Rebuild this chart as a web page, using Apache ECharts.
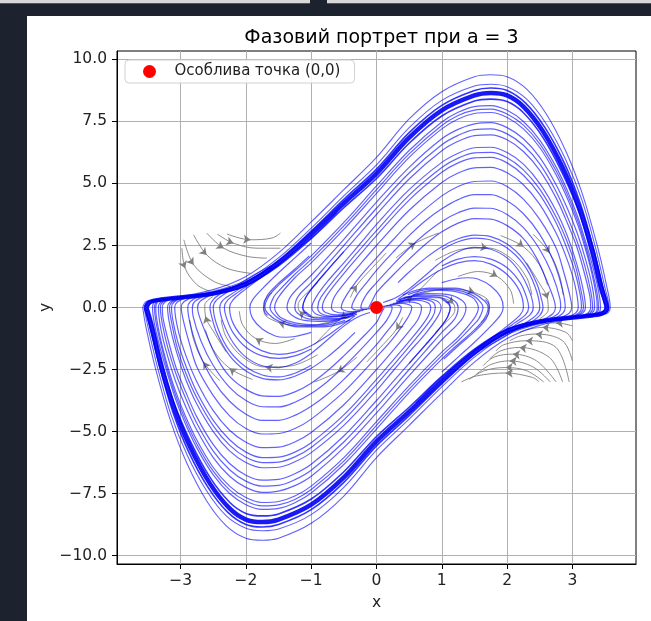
<!DOCTYPE html>
<html><head><meta charset="utf-8">
<script src="https://cdn.jsdelivr.net/npm/echarts@6/dist/echarts.min.js"></script>
<style>
html,body{margin:0;padding:0;width:651px;height:621px;overflow:hidden;background:#1c232e;position:relative}
#bar1{position:absolute;left:0;top:0;width:310px;height:3px;background:#d8d8d8;border-bottom:1px solid #555}
#bar2{position:absolute;left:327px;top:0;width:324px;height:3px;background:#d8d8d8;border-bottom:1px solid #555}
#panel{position:absolute;left:27px;top:16px;width:624px;height:605px;background:#fff}
#chart{position:absolute;left:0;top:0;width:651px;height:621px}
</style></head><body>
<div id="bar1"></div><div id="bar2"></div><div id="panel"></div><div id="chart"></div>
<script>
const xTicks = [-3, -2, -1, 0, 1, 2, 3];
const yTicks = [-10, -7.5, -5, -2.5, 0, 2.5, 5, 7.5, 10];
const singularPoint = [[0, 0]];

const limitCycle = [[-3.53,0.0],[-3.47,0.22],[-3.3,0.32],[-3.0,0.4],[-2.5,0.56],[-2.0,0.95],[-1.5,1.8],[-1.0,2.95],[-0.5,4.2],[0,5.4],[0.5,6.85],[1.0,7.95],[1.5,8.55],[1.75,8.65],[2.0,8.55],[2.25,8.1],[2.55,7.1],[2.85,5.65],[3.1,4.05],[3.3,2.35],[3.45,0.75],[3.52,0.1],
[3.53,0.0],[3.47,-0.22],[3.3,-0.32],[3.0,-0.4],[2.5,-0.56],[2.0,-0.95],[1.5,-1.8],[1.0,-2.95],[0.5,-4.2],[0,-5.4],[-0.5,-6.85],[-1.0,-7.95],[-1.5,-8.55],[-1.75,-8.65],[-2.0,-8.55],[-2.25,-8.1],[-2.55,-7.1],[-2.85,-5.65],[-3.1,-4.05],[-3.3,-2.35],[-3.45,-0.75],[-3.52,-0.1],[-3.53,0.0]];

const bandInner = [[-3.5,0.0],[-3.44,0.21],[-3.0,0.39],[-2.5,0.53],[-2.0,0.88],[-1.5,1.68],[-1.0,2.78],[-0.5,4.02],[0,5.2],[0.5,6.62],[1.0,7.72],[1.5,8.32],[1.75,8.4],[2.0,8.3],[2.25,7.85],[2.55,6.85],[2.85,5.4],[3.1,3.85],[3.28,2.25],[3.42,0.72],[3.5,0.0],
[3.44,-0.21],[3.0,-0.39],[2.5,-0.53],[2.0,-0.88],[1.5,-1.68],[1.0,-2.78],[0.5,-4.02],[0,-5.2],[-0.5,-6.62],[-1.0,-7.72],[-1.5,-8.32],[-1.75,-8.4],[-2.0,-8.3],[-2.25,-7.85],[-2.55,-6.85],[-2.85,-5.4],[-3.1,-3.85],[-3.28,-2.25],[-3.42,-0.72],[-3.5,0.0]];

const bandOuter = [[-3.55,0.0],[-3.49,0.23],[-3.0,0.42],[-2.5,0.6],[-2.0,1.02],[-1.5,1.9],[-1.0,3.08],[-0.5,4.36],[0,5.58],[0.5,7.05],[1.0,8.15],[1.5,8.75],[1.75,8.85],[2.0,8.75],[2.28,8.25],[2.58,7.25],[2.88,5.8],[3.12,4.2],[3.32,2.4],[3.47,0.76],[3.55,0.0],
[3.49,-0.23],[3.0,-0.42],[2.5,-0.6],[2.0,-1.02],[1.5,-1.9],[1.0,-3.08],[0.5,-4.36],[0,-5.58],[-0.5,-7.05],[-1.0,-8.15],[-1.5,-8.75],[-1.75,-8.85],[-2.0,-8.75],[-2.28,-8.25],[-2.58,-7.25],[-2.88,-5.8],[-3.12,-4.2],[-3.32,-2.4],[-3.47,-0.76],[-3.55,0.0]];

const outerLoopA = [[-3.58,0.0],[-3.52,0.25],[-3.0,0.45],[-2.5,0.72],[-2.0,1.25],[-1.5,2.2],[-1.0,3.45],[-0.5,4.75],[0,6.05],[0.5,7.6],[1.0,8.7],[1.5,9.3],[1.75,9.38],[2.0,9.3],[2.3,8.8],[2.6,7.8],[2.9,6.3],[3.15,4.6],[3.38,2.5],[3.53,0.8],[3.58,0.0],
[3.52,-0.25],[3.0,-0.45],[2.5,-0.72],[2.0,-1.25],[1.5,-2.2],[1.0,-3.45],[0.5,-4.75],[0,-6.05],[-0.5,-7.6],[-1.0,-8.7],[-1.5,-9.3],[-1.75,-9.38],[-2.0,-9.3],[-2.3,-8.8],[-2.6,-7.8],[-2.9,-6.3],[-3.15,-4.6],[-3.38,-2.5],[-3.53,-0.8],[-3.58,0.0]];

const outerLoopB = [[-3.56,0.0],[-3.5,0.24],[-3.0,0.43],[-2.5,0.65],[-2.0,1.1],[-1.5,2.0],[-1.0,3.2],[-0.5,4.5],[0,5.75],[0.5,7.25],[1.0,8.35],[1.5,8.93],[1.75,9.0],[2.0,8.9],[2.3,8.4],[2.6,7.4],[2.9,5.95],[3.15,4.3],[3.35,2.45],[3.5,0.78],[3.56,0.0],
[3.5,-0.24],[3.0,-0.43],[2.5,-0.65],[2.0,-1.1],[1.5,-2.0],[1.0,-3.2],[0.5,-4.5],[0,-5.75],[-0.5,-7.25],[-1.0,-8.35],[-1.5,-8.93],[-1.75,-9.0],[-2.0,-8.9],[-2.3,-8.4],[-2.6,-7.4],[-2.9,-5.95],[-3.15,-4.3],[-3.35,-2.45],[-3.5,-0.78],[-3.56,0.0]];

const arcsUpper = [
[[-0.4,-0.5],[-0.8,-0.78],[-1.2,-0.78],[-1.5,-0.55],[-1.66,-0.25],[-1.71,0],[-1.65,0.45],[-1.5,0.9],[-1.25,1.48],[-1.0,2.08],[-0.5,3.43],[0,4.9],[0.5,6.33],[1.0,7.48],[1.25,7.87],[1.5,8.1],[1.75,8.14],[2.0,7.95],[2.25,7.5],[2.5,6.75],[2.75,5.67],[2.93,4.67],[3.08,3.67],[3.2,2.67],[3.31,1.67],[3.4,0.67],[3.43,0],[3.4,-0.22],[3.25,-0.33],[3.0,-0.41],[2.5,-0.58]],
[[-0.48,-0.52],[-0.85,-0.74],[-1.22,-0.7],[-1.48,-0.48],[-1.6,-0.2],[-1.63,0],[-1.57,0.44],[-1.5,0.66],[-1.25,1.34],[-1.0,1.94],[-0.5,3.29],[0,4.75],[0.5,6.19],[1.0,7.34],[1.25,7.74],[1.5,7.96],[1.75,8.0],[2.0,7.8],[2.25,7.35],[2.5,6.6],[2.75,5.51],[2.93,4.51],[3.08,3.51],[3.2,2.51],[3.3,1.51],[3.38,0.55],[3.4,0],[3.37,-0.22],[3.22,-0.33],[3.0,-0.41],[2.5,-0.58]],
[[-0.55,-0.5],[-0.9,-0.7],[-1.25,-0.62],[-1.47,-0.4],[-1.54,-0.18],[-1.56,0],[-1.5,0.42],[-1.25,1.2],[-1.0,1.8],[-0.5,3.15],[0,4.6],[0.5,6.05],[1.0,7.2],[1.25,7.6],[1.5,7.82],[1.75,7.86],[2.0,7.66],[2.25,7.2],[2.5,6.45],[2.75,5.35],[2.93,4.35],[3.08,3.35],[3.2,2.35],[3.3,1.35],[3.37,0.4],[3.38,0],[3.35,-0.22],[3.2,-0.34],[3.0,-0.42],[2.5,-0.58]],
[[-0.4,-0.38],[-0.8,-0.56],[-1.1,-0.52],[-1.3,-0.3],[-1.37,0],[-1.3,0.5],[-1.0,1.3],[-0.5,2.75],[0,4.25],[0.5,5.65],[1.0,6.8],[1.25,7.18],[1.5,7.4],[1.75,7.45],[2.0,7.25],[2.25,6.8],[2.5,6.05],[2.75,4.95],[2.93,3.95],[3.08,2.95],[3.2,1.95],[3.3,0.9],[3.34,0],[3.3,-0.22],[3.15,-0.35],[2.95,-0.43],[2.5,-0.59]],
[[-0.35,-0.33],[-0.72,-0.5],[-1.02,-0.47],[-1.2,-0.25],[-1.25,0],[-1.2,0.45],[-1.0,1.0],[-0.75,1.75],[-0.5,2.5],[0,4.0],[0.5,5.42],[1.0,6.56],[1.25,6.94],[1.5,7.17],[1.75,7.2],[2.0,7.0],[2.25,6.54],[2.5,5.79],[2.75,4.68],[2.92,3.68],[3.07,2.68],[3.19,1.68],[3.28,0.66],[3.31,0],[3.27,-0.22],[3.12,-0.35],[2.92,-0.43],[2.5,-0.6]],
[[-0.3,-0.28],[-0.65,-0.45],[-0.95,-0.42],[-1.1,-0.2],[-1.13,0],[-1.09,0.37],[-1.0,0.73],[-0.75,1.51],[-0.5,2.25],[-0.25,3.0],[0,3.75],[0.5,5.18],[1.0,6.32],[1.25,6.7],[1.5,6.93],[1.75,6.96],[2.0,6.76],[2.25,6.29],[2.5,5.53],[2.75,4.42],[2.92,3.42],[3.07,2.42],[3.18,1.42],[3.27,0.42],[3.28,0],[3.24,-0.22],[3.1,-0.36],[2.9,-0.44],[2.5,-0.6]],
[[-0.35,-0.28],[-0.7,-0.37],[-0.92,-0.27],[-0.99,0],[-0.93,0.4],[-0.75,1.05],[-0.5,1.8],[-0.25,2.57],[0,3.35],[0.5,4.75],[1.0,5.85],[1.25,6.22],[1.5,6.44],[1.75,6.46],[2.0,6.25],[2.25,5.78],[2.5,5.0],[2.75,3.9],[2.92,2.9],[3.05,1.9],[3.15,0.9],[3.2,0],[3.16,-0.22],[3.0,-0.4],[2.8,-0.48],[2.45,-0.62]],
[[-0.32,-0.25],[-0.65,-0.35],[-0.85,-0.24],[-0.9,0],[-0.85,0.42],[-0.5,1.58],[-0.25,2.35],[0,3.1],[0.5,4.53],[1.0,5.64],[1.25,6.02],[1.5,6.23],[1.75,6.25],[2.0,6.04],[2.25,5.55],[2.5,4.77],[2.75,3.65],[2.92,2.65],[3.05,1.65],[3.13,0.7],[3.17,0],[3.13,-0.22],[2.97,-0.4],[2.77,-0.48],[2.45,-0.62]],
[[-0.3,-0.22],[-0.6,-0.3],[-0.78,-0.2],[-0.83,0],[-0.77,0.45],[-0.5,1.37],[-0.25,2.14],[0,2.9],[0.5,4.33],[1.0,5.45],[1.25,5.83],[1.5,6.03],[1.75,6.05],[2.0,5.83],[2.25,5.33],[2.5,4.55],[2.75,3.42],[2.91,2.42],[3.04,1.42],[3.12,0.5],[3.14,0],[3.1,-0.22],[2.95,-0.4],[2.75,-0.49],[2.45,-0.62]],
[[-0.25,-0.16],[-0.5,-0.23],[-0.65,-0.15],[-0.69,0],[-0.64,0.45],[-0.5,0.95],[-0.25,1.74],[0,2.5],[0.5,3.92],[1.0,5.04],[1.25,5.42],[1.5,5.63],[1.75,5.65],[2.0,5.43],[2.25,4.95],[2.5,4.16],[2.75,3.0],[2.91,2.0],[3.03,1.0],[3.09,0],[3.05,-0.22],[2.9,-0.4],[2.7,-0.5],[2.4,-0.63]],
[[-0.2,-0.12],[-0.4,-0.17],[-0.51,-0.1],[-0.54,0],[-0.47,0.45],[-0.25,1.25],[0,2.0],[0.25,2.72],[0.5,3.4],[1.0,4.5],[1.25,4.88],[1.5,5.08],[1.75,5.1],[2.0,4.88],[2.25,4.37],[2.5,3.55],[2.75,2.4],[2.87,1.4],[2.96,0.5],[2.99,0],[2.95,-0.23],[2.8,-0.42],[2.6,-0.53],[2.3,-0.68]],
[[-0.15,-0.08],[-0.3,-0.1],[-0.38,0],[-0.3,0.5],[-0.15,1.0],[0,1.5],[0.25,2.22],[0.5,2.9],[0.75,3.5],[1.0,3.98],[1.25,4.35],[1.5,4.55],[1.75,4.55],[2.0,4.3],[2.25,3.78],[2.5,2.95],[2.72,1.8],[2.85,0.7],[2.89,0],[2.85,-0.24],[2.7,-0.47],[2.45,-0.63],[2.15,-0.85]],
[[-0.1,-0.05],[-0.2,-0.06],[-0.24,0],[-0.16,0.5],[0,1.0],[0.25,1.72],[0.5,2.39],[0.75,2.98],[1.0,3.47],[1.25,3.82],[1.5,4.01],[1.75,4.0],[2.0,3.75],[2.25,3.22],[2.5,2.34],[2.69,1.34],[2.81,0.34],[2.82,0],[2.78,-0.25],[2.6,-0.5],[2.3,-0.75],[2.0,-1.0]],
[[-0.12,0],[-0.06,0.3],[0,0.6],[0.25,1.3],[0.5,1.95],[0.75,2.55],[1.0,3.05],[1.25,3.4],[1.5,3.58],[1.75,3.56],[2.0,3.3],[2.25,2.78],[2.45,2.0],[2.62,1.0],[2.72,0.3],[2.74,0],[2.7,-0.25],[2.5,-0.55],[2.2,-0.8],[1.9,-1.15]]
];

const arcsLower = [
[[0.4,0.5],[0.8,0.78],[1.2,0.78],[1.5,0.55],[1.66,0.25],[1.71,0],[1.65,-0.45],[1.5,-0.9],[1.25,-1.48],[1.0,-2.08],[0.5,-3.43],[0,-4.9],[-0.5,-6.33],[-1.0,-7.48],[-1.25,-7.87],[-1.5,-8.1],[-1.75,-8.14],[-2.0,-7.95],[-2.25,-7.5],[-2.5,-6.75],[-2.75,-5.67],[-2.93,-4.67],[-3.08,-3.67],[-3.2,-2.67],[-3.31,-1.67],[-3.4,-0.67],[-3.43,0],[-3.4,0.22],[-3.25,0.33],[-3.0,0.41],[-2.5,0.58]],
[[0.48,0.52],[0.85,0.74],[1.22,0.7],[1.48,0.48],[1.6,0.2],[1.63,0],[1.57,-0.44],[1.5,-0.66],[1.25,-1.34],[1.0,-1.94],[0.5,-3.29],[0,-4.75],[-0.5,-6.19],[-1.0,-7.34],[-1.25,-7.74],[-1.5,-7.96],[-1.75,-8.0],[-2.0,-7.8],[-2.25,-7.35],[-2.5,-6.6],[-2.75,-5.51],[-2.93,-4.51],[-3.08,-3.51],[-3.2,-2.51],[-3.3,-1.51],[-3.38,-0.55],[-3.4,0],[-3.37,0.22],[-3.22,0.33],[-3.0,0.41],[-2.5,0.58]],
[[0.55,0.5],[0.9,0.7],[1.25,0.62],[1.47,0.4],[1.54,0.18],[1.56,0],[1.5,-0.42],[1.25,-1.2],[1.0,-1.8],[0.5,-3.15],[0,-4.6],[-0.5,-6.05],[-1.0,-7.2],[-1.25,-7.6],[-1.5,-7.82],[-1.75,-7.86],[-2.0,-7.66],[-2.25,-7.2],[-2.5,-6.45],[-2.75,-5.35],[-2.93,-4.35],[-3.08,-3.35],[-3.2,-2.35],[-3.3,-1.35],[-3.37,-0.4],[-3.38,0],[-3.35,0.22],[-3.2,0.34],[-3.0,0.42],[-2.5,0.58]],
[[0.4,0.38],[0.8,0.56],[1.1,0.52],[1.3,0.3],[1.37,0],[1.3,-0.5],[1.0,-1.3],[0.5,-2.75],[0,-4.25],[-0.5,-5.65],[-1.0,-6.8],[-1.25,-7.18],[-1.5,-7.4],[-1.75,-7.45],[-2.0,-7.25],[-2.25,-6.8],[-2.5,-6.05],[-2.75,-4.95],[-2.93,-3.95],[-3.08,-2.95],[-3.2,-1.95],[-3.3,-0.9],[-3.34,0],[-3.3,0.22],[-3.15,0.35],[-2.95,0.43],[-2.5,0.59]],
[[0.35,0.33],[0.72,0.5],[1.02,0.47],[1.2,0.25],[1.25,0],[1.2,-0.45],[1.0,-1.0],[0.75,-1.75],[0.5,-2.5],[0,-4.0],[-0.5,-5.42],[-1.0,-6.56],[-1.25,-6.94],[-1.5,-7.17],[-1.75,-7.2],[-2.0,-7.0],[-2.25,-6.54],[-2.5,-5.79],[-2.75,-4.68],[-2.92,-3.68],[-3.07,-2.68],[-3.19,-1.68],[-3.28,-0.66],[-3.31,0],[-3.27,0.22],[-3.12,0.35],[-2.92,0.43],[-2.5,0.6]],
[[0.3,0.28],[0.65,0.45],[0.95,0.42],[1.1,0.2],[1.13,0],[1.09,-0.37],[1.0,-0.73],[0.75,-1.51],[0.5,-2.25],[0.25,-3.0],[0,-3.75],[-0.5,-5.18],[-1.0,-6.32],[-1.25,-6.7],[-1.5,-6.93],[-1.75,-6.96],[-2.0,-6.76],[-2.25,-6.29],[-2.5,-5.53],[-2.75,-4.42],[-2.92,-3.42],[-3.07,-2.42],[-3.18,-1.42],[-3.27,-0.42],[-3.28,0],[-3.24,0.22],[-3.1,0.36],[-2.9,0.44],[-2.5,0.6]],
[[0.35,0.28],[0.7,0.37],[0.92,0.27],[0.99,0],[0.93,-0.4],[0.75,-1.05],[0.5,-1.8],[0.25,-2.57],[0,-3.35],[-0.5,-4.75],[-1.0,-5.85],[-1.25,-6.22],[-1.5,-6.44],[-1.75,-6.46],[-2.0,-6.25],[-2.25,-5.78],[-2.5,-5.0],[-2.75,-3.9],[-2.92,-2.9],[-3.05,-1.9],[-3.15,-0.9],[-3.2,0],[-3.16,0.22],[-3.0,0.4],[-2.8,0.48],[-2.45,0.62]],
[[0.32,0.25],[0.65,0.35],[0.85,0.24],[0.9,0],[0.85,-0.42],[0.5,-1.58],[0.25,-2.35],[0,-3.1],[-0.5,-4.53],[-1.0,-5.64],[-1.25,-6.02],[-1.5,-6.23],[-1.75,-6.25],[-2.0,-6.04],[-2.25,-5.55],[-2.5,-4.77],[-2.75,-3.65],[-2.92,-2.65],[-3.05,-1.65],[-3.13,-0.7],[-3.17,0],[-3.13,0.22],[-2.97,0.4],[-2.77,0.48],[-2.45,0.62]],
[[0.3,0.22],[0.6,0.3],[0.78,0.2],[0.83,0],[0.77,-0.45],[0.5,-1.37],[0.25,-2.14],[0,-2.9],[-0.5,-4.33],[-1.0,-5.45],[-1.25,-5.83],[-1.5,-6.03],[-1.75,-6.05],[-2.0,-5.83],[-2.25,-5.33],[-2.5,-4.55],[-2.75,-3.42],[-2.91,-2.42],[-3.04,-1.42],[-3.12,-0.5],[-3.14,0],[-3.1,0.22],[-2.95,0.4],[-2.75,0.49],[-2.45,0.62]],
[[0.25,0.16],[0.5,0.23],[0.65,0.15],[0.69,0],[0.64,-0.45],[0.5,-0.95],[0.25,-1.74],[0,-2.5],[-0.5,-3.92],[-1.0,-5.04],[-1.25,-5.42],[-1.5,-5.63],[-1.75,-5.65],[-2.0,-5.43],[-2.25,-4.95],[-2.5,-4.16],[-2.75,-3.0],[-2.91,-2.0],[-3.03,-1.0],[-3.09,0],[-3.05,0.22],[-2.9,0.4],[-2.7,0.5],[-2.4,0.63]],
[[0.2,0.12],[0.4,0.17],[0.51,0.1],[0.54,0],[0.47,-0.45],[0.25,-1.25],[0,-2.0],[-0.25,-2.72],[-0.5,-3.4],[-1.0,-4.5],[-1.25,-4.88],[-1.5,-5.08],[-1.75,-5.1],[-2.0,-4.88],[-2.25,-4.37],[-2.5,-3.55],[-2.75,-2.4],[-2.87,-1.4],[-2.96,-0.5],[-2.99,0],[-2.95,0.23],[-2.8,0.42],[-2.6,0.53],[-2.3,0.68]],
[[0.15,0.08],[0.3,0.1],[0.38,0],[0.3,-0.5],[0.15,-1.0],[0,-1.5],[-0.25,-2.22],[-0.5,-2.9],[-0.75,-3.5],[-1.0,-3.98],[-1.25,-4.35],[-1.5,-4.55],[-1.75,-4.55],[-2.0,-4.3],[-2.25,-3.78],[-2.5,-2.95],[-2.72,-1.8],[-2.85,-0.7],[-2.89,0],[-2.85,0.24],[-2.7,0.47],[-2.45,0.63],[-2.15,0.85]],
[[0.1,0.05],[0.2,0.06],[0.24,0],[0.16,-0.5],[0,-1.0],[-0.25,-1.72],[-0.5,-2.39],[-0.75,-2.98],[-1.0,-3.47],[-1.25,-3.82],[-1.5,-4.01],[-1.75,-4.0],[-2.0,-3.75],[-2.25,-3.22],[-2.5,-2.34],[-2.69,-1.34],[-2.81,-0.34],[-2.82,0],[-2.78,0.25],[-2.6,0.5],[-2.3,0.75],[-2.0,1.0]],
[[0.12,0],[0.06,-0.3],[0,-0.6],[-0.25,-1.3],[-0.5,-1.95],[-0.75,-2.55],[-1.0,-3.05],[-1.25,-3.4],[-1.5,-3.58],[-1.75,-3.56],[-2.0,-3.3],[-2.25,-2.78],[-2.45,-2.0],[-2.62,-1.0],[-2.72,-0.3],[-2.74,0],[-2.7,0.25],[-2.5,0.55],[-2.2,0.8],[-1.9,1.15]]
];

const smallUpper = [
[[0.33,1.0],[0.5,1.43],[0.75,1.99],[1.0,2.45],[1.25,2.77],[1.5,2.92],[1.75,2.86],[2.0,2.56],[2.25,1.94],[2.45,1.0],[2.53,0.3],[2.55,0],[2.5,-0.32],[2.3,-0.7],[2.0,-1.05],[1.6,-1.65]],
[[0.33,0.33],[0.5,0.66],[0.75,1.14],[1.0,1.54],[1.25,1.8],[1.5,1.89],[1.75,1.75],[2.0,1.33],[2.19,0.67],[2.25,0],[2.2,-0.3],[2.0,-0.75],[1.75,-1.25],[1.5,-1.75],[1.0,-2.8],[0.6,-3.85]],
[[1.0,1.0],[1.25,1.17],[1.4,1.2],[1.55,1.15],[1.75,0.87],[1.9,0.43],[1.94,0],[1.9,-0.3],[1.75,-0.75],[1.5,-1.4],[1.25,-2.0],[1.0,-2.6]],
[[1.0,0.33],[1.1,0.15],[1.13,0],[1.09,-0.37],[1.0,-0.73],[0.75,-1.51],[0.5,-2.25]],
[[1.67,0.33],[1.72,0.15],[1.73,0],[1.68,-0.45],[1.53,-0.9],[1.28,-1.48],[1.03,-2.08]],
[[1.0,1.67],[1.25,1.95],[1.5,2.05],[1.75,1.95],[2.0,1.6],[2.2,1.0],[2.3,0.4],[2.33,0],[2.28,-0.3],[2.1,-0.65],[1.8,-1.2],[1.5,-1.7]],
[[1.0,2.33],[1.25,2.65],[1.5,2.8],[1.75,2.72],[2.0,2.4],[2.25,1.75],[2.42,0.9],[2.5,0],[2.45,-0.3],[2.25,-0.68],[1.95,-1.2],[1.6,-1.7]],
[[0.1,0.2],[0.3,0.4],[0.5,0.75],[0.75,1.3],[1.0,1.85],[1.25,2.25],[1.5,2.42],[1.75,2.35],[2.0,2.0],[2.2,1.4],[2.35,0.6],[2.4,0],[2.35,-0.3],[2.15,-0.66],[1.85,-1.22],[1.5,-1.72]]
];

const smallLower = [
[[-0.33,-1.0],[-0.5,-1.43],[-0.75,-1.99],[-1.0,-2.45],[-1.25,-2.77],[-1.5,-2.92],[-1.75,-2.86],[-2.0,-2.56],[-2.25,-1.94],[-2.45,-1.0],[-2.53,-0.3],[-2.55,0],[-2.5,0.32],[-2.3,0.7],[-2.0,1.05],[-1.6,1.65]],
[[-0.33,-0.33],[-0.5,-0.66],[-0.75,-1.14],[-1.0,-1.54],[-1.25,-1.8],[-1.5,-1.89],[-1.75,-1.75],[-2.0,-1.33],[-2.19,-0.67],[-2.25,0],[-2.2,0.3],[-2.0,0.75],[-1.75,1.25],[-1.5,1.75],[-1.0,2.8],[-0.6,3.85]],
[[-1.0,-1.0],[-1.25,-1.17],[-1.4,-1.2],[-1.55,-1.15],[-1.75,-0.87],[-1.9,-0.43],[-1.94,0],[-1.9,0.3],[-1.75,0.75],[-1.5,1.4],[-1.25,2.0],[-1.0,2.6]],
[[-1.0,-0.33],[-1.1,-0.15],[-1.13,0],[-1.09,0.37],[-1.0,0.73],[-0.75,1.51],[-0.5,2.25]],
[[-1.67,-0.33],[-1.72,-0.15],[-1.73,0],[-1.68,0.45],[-1.53,0.9],[-1.28,1.48],[-1.03,2.08]],
[[-1.0,-1.67],[-1.25,-1.95],[-1.5,-2.05],[-1.75,-1.95],[-2.0,-1.6],[-2.2,-1.0],[-2.3,-0.4],[-2.33,0],[-2.28,0.3],[-2.1,0.65],[-1.8,1.2],[-1.5,1.7]],
[[-1.0,-2.33],[-1.25,-2.65],[-1.5,-2.8],[-1.75,-2.72],[-2.0,-2.4],[-2.25,-1.75],[-2.42,-0.9],[-2.5,0],[-2.45,0.3],[-2.25,0.68],[-1.95,1.2],[-1.6,1.7]],
[[-0.1,-0.2],[-0.3,-0.4],[-0.5,-0.75],[-0.75,-1.3],[-1.0,-1.85],[-1.25,-2.25],[-1.5,-2.42],[-1.75,-2.35],[-2.0,-2.0],[-2.2,-1.4],[-2.35,-0.6],[-2.4,0],[-2.35,0.3],[-2.15,0.66],[-1.85,1.22],[-1.5,1.72]]
];

const streamsUpperLeft = [
[[-2.98,2.39],[-2.93,1.58],[-2.75,0.92],[-2.55,0.65]],
[[-2.95,2.73],[-2.8,1.72],[-2.49,1.05],[-2.24,0.85]],
[[-2.8,2.93],[-2.6,2.12],[-2.29,1.58],[-1.93,1.38]],
[[-2.6,3.0],[-2.34,2.39],[-1.98,2.06],[-1.68,1.99]],
[[-2.44,2.96],[-2.19,2.59],[-1.83,2.39],[-1.47,2.39]],
[[-2.29,2.96],[-1.93,2.73],[-1.6,2.8],[-1.47,3.0]]
];

const streamsLowerRight = [
[[2.49,-3.0],[2.39,-2.82],[1.98,-2.64],[1.53,-2.76],[1.3,-3.0]],
[[2.56,-3.0],[2.3,-2.55],[1.98,-2.42],[1.65,-2.55],[1.42,-2.9]],
[[2.66,-3.0],[2.4,-2.4],[2.04,-2.15],[1.75,-2.3],[1.53,-2.69]],
[[2.75,-3.0],[2.45,-2.15],[2.09,-1.88],[1.8,-2.0],[1.63,-2.35]],
[[2.85,-3.0],[2.65,-2.02],[2.19,-1.61],[1.9,-1.75],[1.73,-2.08]],
[[2.95,-3.0],[2.75,-1.61],[2.29,-1.34],[1.95,-1.5],[1.83,-1.75]],
[[3.0,-2.15],[2.85,-1.34],[2.44,-1.07],[2.2,-1.15],[2.04,-1.34]],
[[3.0,-1.34],[2.9,-1.0],[2.54,-0.8],[2.3,-0.9],[2.19,-1.0]],
[[3.0,-0.74],[2.75,-0.62],[2.4,-0.67]]
];

const streamsInner = [
[[0.9,1.9],[1.3,2.35],[1.7,2.4],[2.05,2.0],[2.3,1.2],[2.38,0.5]],
[[1.25,1.25],[1.55,1.45],[1.85,1.25],[2.05,0.7],[2.1,0.15]],
[[0.3,2.0],[0.6,2.6],[0.95,3.0]],
[[1.9,2.9],[2.25,2.45],[2.5,1.7],[2.62,0.9]],
[[2.4,2.95],[2.65,2.2],[2.8,1.3],[2.86,0.5]],
[[0.05,0.02],[0.3,0.15],[0.55,0.45],[0.75,0.95],[0.95,1.5]],
[[-0.4,0.4],[-0.3,0.9],[-0.1,1.5],[0.15,2.2]],
[[-0.3,-0.2],[-0.7,-0.4],[-1.0,-0.38],[-1.18,-0.15],[-1.2,0.1],[-1.1,0.5],[-0.9,1.0]],
[[-0.6,-0.5],[-1.1,-0.75],[-1.5,-0.6],[-1.72,-0.2],[-1.72,0.2],[-1.6,0.6]],
[[-2.3,-1.8],[-2.5,-0.95],[-2.62,-0.35],[-2.63,0.1],[-2.5,0.45]],
[[-0.9,-1.9],[-1.3,-2.35],[-1.7,-2.4],[-2.05,-2.0],[-2.3,-1.2],[-2.38,-0.5]],
[[-1.25,-1.25],[-1.55,-1.45],[-1.85,-1.25],[-2.05,-0.7],[-2.1,-0.15]],
[[-0.3,-2.0],[-0.6,-2.6],[-0.95,-3.0]],
[[-1.9,-2.9],[-2.25,-2.45],[-2.5,-1.7],[-2.62,-0.9]],
[[-2.4,-2.95],[-2.65,-2.2],[-2.8,-1.3],[-2.86,-0.5]],
[[-0.05,-0.02],[-0.3,-0.15],[-0.55,-0.45],[-0.75,-0.95],[-0.95,-1.5]],
[[0.4,-0.4],[0.3,-0.9],[0.1,-1.5],[-0.15,-2.2]],
[[0.3,0.2],[0.7,0.4],[1.0,0.38],[1.18,0.15],[1.2,-0.1],[1.1,-0.5],[0.9,-1.0]],
[[0.6,0.5],[1.1,0.75],[1.5,0.6],[1.72,0.2],[1.72,-0.2],[1.6,-0.6]],
[[2.3,1.8],[2.5,0.95],[2.62,0.35],[2.63,-0.1],[2.5,-0.45]]
];

const FONT = 'DejaVu Sans';
const blue = 'rgba(0,0,255,0.62)';
const grey = 'rgba(120,120,120,0.85)';

function curve(data, width, color, z) {
  return { type: 'line', data: data, smooth: 0.35, showSymbol: false, symbol: 'none',
    silent: true, animation: false, z: z, lineStyle: { width: width, color: color } };
}

const series = [];
const streams = streamsUpperLeft.concat(streamsLowerRight, streamsInner);
streams.forEach(s => series.push(curve(s, 1, grey, 2)));
const arrowData = streams.map(s => {
  const k = Math.floor((s.length - 1) / 2);
  const a = s[k - 1], b = s[k + 1], p = s[k];
  return { coords: [[p[0] - (b[0] - a[0]) * 0.05, p[1] - (b[1] - a[1]) * 0.05], p] };
});
series.push({ type: 'lines', coordinateSystem: 'cartesian2d', data: arrowData, symbol: ['none', 'arrow'],
  symbolSize: 7, silent: true, animation: false, z: 3, lineStyle: { color: '#808080', width: 1, opacity: 1 } });
arcsUpper.concat(arcsLower, smallUpper, smallLower).forEach(a => series.push(curve(a, 1.2, blue, 4)));
series.push(curve(outerLoopA, 1.1, blue, 4));
series.push(curve(outerLoopB, 1.1, blue, 4));
series.push(curve(bandOuter, 1.6, 'rgba(0,0,255,0.8)', 5));
series.push(curve(bandInner, 1.6, 'rgba(0,0,255,0.8)', 5));
series.push(curve(limitCycle, 4.5, 'rgba(0,0,245,0.9)', 5));
series.push({ type: 'scatter', name: 'Особлива точка (0,0)', data: singularPoint, symbolSize: 13,
  itemStyle: { color: '#ff0000', opacity: 1 }, z: 10, animation: false });

const fmtX = v => (v < 0 ? '\u2212' : '') + Math.abs(v);
const fmtY = v => (v < 0 ? '\u2212' : '') + Math.abs(v).toFixed(1);

const chart = echarts.init(document.getElementById('chart'), null, { renderer: 'canvas' });
chart.setOption({
  backgroundColor: 'transparent',
  animation: false,
  title: { text: 'Фазовий портрет при a = 3', left: 376.5, top: 24, textAlign: 'center',
    textStyle: { fontFamily: FONT, fontSize: 19, fontWeight: 'normal', color: '#000' } },
  legend: { data: ['Особлива точка (0,0)'], left: 125, top: 60, icon: 'circle', itemWidth: 40, itemHeight: 13,
    padding: [4, 14, 4, 18], backgroundColor: 'rgba(255,255,255,0.85)', borderColor: '#d0d0d0', borderWidth: 1,
    borderRadius: 4, selectedMode: false, textStyle: { fontFamily: FONT, fontSize: 15, color: '#222' } },
  grid: { left: 117, right: 15, top: 51, bottom: 57, show: true, borderColor: '#000', borderWidth: 1,
    containLabel: false, outerBoundsMode: 'none' },
  xAxis: { type: 'value', min: -3.974, max: 3.974,
    name: 'x', nameLocation: 'middle', nameGap: 31, nameTextStyle: { fontFamily: FONT, fontSize: 15.5, color: '#222' },
    axisLine: { show: true, onZero: false, lineStyle: { color: '#000', width: 1 } },
    axisTick: { show: true, inside: false, length: 5, customValues: xTicks, lineStyle: { color: '#000' } },
    axisLabel: { customValues: xTicks, formatter: fmtX, margin: 9, fontFamily: FONT, fontSize: 15.5, color: '#222' },
    splitLine: { show: true, lineStyle: { color: '#b0b0b0', width: 1 } } },
  yAxis: { type: 'value', min: -10.34, max: 10.34,
    name: 'y', nameLocation: 'middle', nameGap: 63, nameMoveOverlap: false,
    nameTextStyle: { fontFamily: FONT, fontSize: 15.5, color: '#222' },
    axisLine: { show: true, onZero: false, lineStyle: { color: '#000', width: 1 } },
    axisTick: { show: true, inside: false, length: 5, customValues: yTicks, lineStyle: { color: '#000' } },
    axisLabel: { customValues: yTicks, formatter: fmtY, margin: 10, fontFamily: FONT, fontSize: 15.5, color: '#222' },
    splitLine: { show: true, lineStyle: { color: '#b0b0b0', width: 1 } } },
  series: series
});
</script>
</body></html>
